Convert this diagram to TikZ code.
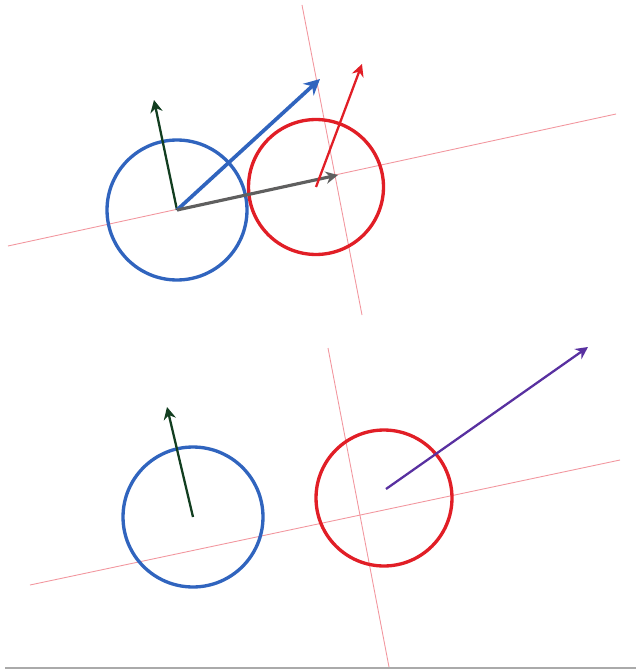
\documentclass[tikz,border=0pt]{standalone}
\usetikzlibrary{arrows.meta}
\definecolor{ballblue}{RGB}{48,100,190}
\definecolor{ballred}{RGB}{225,30,38}
\definecolor{axispink}{RGB}{242,150,158}
\definecolor{spingreen}{RGB}{18,62,32}
\definecolor{pushgray}{RGB}{95,95,95}
\definecolor{outpurple}{RGB}{88,48,160}
\definecolor{framegray}{RGB}{170,170,170}
\begin{document}
\begin{tikzpicture}[x=0.02cm,y=-0.02cm]
\tikzset{
    ball/.style={draw, circle, line width=1.9pt, inner sep=0pt},
    axis/.style={draw=axispink, line width=0.5pt},
    vec/.style={-{Stealth[length=7pt,width=7pt]}, line width=1.3pt}
}
\useasboundingbox (0,0) rectangle (636,672);

% before the hit
\coordinate (l1a) at (8,246);
\coordinate (l1b) at (616,114);
\coordinate (m1a) at (302,5);
\coordinate (m1b) at (362,315);
\draw[axis] (l1a) -- (l1b);
\draw[axis] (m1a) -- (m1b);
\draw node[ball, draw=ballblue, minimum size=2.8cm] (b1) at (177,210) {};
\draw node[ball, draw=ballred, minimum size=2.7cm] (r1) at (316,187) {};
\coordinate (g1) at (154,100);
\coordinate (v1) at (320,79);
\coordinate (n1) at (338,175);
\coordinate (t1) at (362,64);
\draw[vec, spingreen] (b1.center) -- (g1);
\draw[vec, ballblue, line width=2.1pt, -{Stealth[length=9pt,width=9pt]}] (b1.center) -- (v1);
\draw[vec, pushgray, line width=1.8pt] (b1.center) -- (n1);
\draw[vec, ballred] (r1.center) -- (t1);

% after the hit
\coordinate (l2a) at (30,585);
\coordinate (l2b) at (620,460);
\coordinate (m2a) at (328,348);
\coordinate (m2b) at (389,667);
\draw[axis] (l2a) -- (l2b);
\draw[axis] (m2a) -- (m2b);
\draw node[ball, draw=ballblue, minimum size=2.8cm] (b2) at (193,517) {};
\draw node[ball, draw=ballred, minimum size=2.72cm] (r2) at (384,498) {};
\coordinate (g2) at (167,407);
\coordinate (p2) at (588,347);
\draw[vec, spingreen] (b2.center) -- (g2);
\draw[vec, outpurple] (386,489) -- (p2);

% frame edge
\coordinate (fa) at (5,668);
\coordinate (fb) at (636,668);
\draw[framegray, line width=1.2pt] (fa) -- (fb);
\end{tikzpicture}
\end{document}
